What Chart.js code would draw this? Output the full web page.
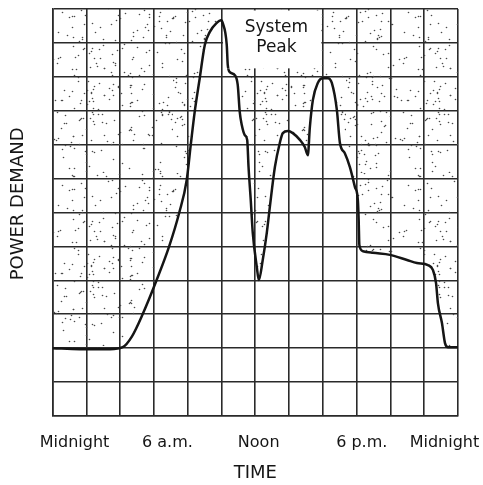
<!DOCTYPE html>
<html>
<head>
<meta charset="utf-8">
<script src="https://cdn.jsdelivr.net/npm/chart.js@4.4.1/dist/chart.umd.min.js"></script>
<style>
    html, body { margin: 0; padding: 0; background: #ffffff; }
    #wrap { width: 483px; height: 485px; }
</style>
</head>
<body>
<div id="wrap"><canvas id="demandChart"></canvas></div>
<script>
// Hour of day (0 = midnight) and power demand in grid units (0-12)
const hours = [0, 1.6, 3.4, 4.15, 4.7, 5.33, 6.16, 6.9, 7.5, 7.94,
    8.18, 8.41, 8.71, 9.01, 9.3, 9.72, 9.96, 10.07, 10.31, 10.37,
    10.49, 10.79, 10.96, 11.08, 11.2, 11.38, 11.52, 11.6, 11.73, 11.85,
    12.09, 12.21, 12.44, 12.68, 12.86, 13.16, 13.45, 13.63, 13.93, 14.22,
    14.64, 14.93, 15.11, 15.23, 15.41, 15.7, 16.0, 16.3, 16.53, 16.83,
    17.01, 17.3, 17.6, 17.9, 18.07, 18.12, 18.16, 18.37, 18.96, 19.97,
    20.98, 21.57, 22.22, 22.52, 22.7, 22.81, 23.05, 23.23, 23.41, 24];
const demand = [2.0, 1.97, 1.97, 2.03, 2.35, 3.0, 4.01, 5.0, 6.0, 6.96,
    8.0, 8.96, 9.96, 10.94, 11.32, 11.59, 11.67, 11.59, 10.94, 10.35,
    10.14, 10.05, 9.76, 8.96, 8.58, 8.28, 8.14, 7.34, 6.37, 5.40,
    4.39, 4.01, 4.60, 5.40, 6.16, 7.34, 8.05, 8.34, 8.40, 8.34,
    8.14, 7.93, 7.69, 8.52, 9.32, 9.82, 9.96, 9.96, 9.82, 9.02,
    8.05, 7.75, 7.34, 6.75, 6.37, 5.78, 5.04, 4.86, 4.81, 4.75,
    4.60, 4.51, 4.45, 4.30, 3.92, 3.33, 2.74, 2.15, 2.03, 2.03];

// Time labels under the grid and the hour each one sits at
const timeLabels = ['Midnight', '6 a.m.', 'Noon', '6 p.m.', 'Midnight'];
const timeLabelHours = [1.3, 6.8, 12.2, 18.3, 23.2];

const peakLabel = ['System', 'Peak'];

const INK = '#151515';
const FONT = '"DejaVu Sans", sans-serif';

// dotted texture for the area above the curve (big tile so it doesn't look tiled)
function makeStipple() {
    const size = 173;
    const c = document.createElement('canvas');
    c.width = size;
    c.height = size;
    const g = c.getContext('2d');
    g.fillStyle = '#4a4a4a';
    let seed = 98765;
    const next = () => {
        seed = (seed * 16807) % 2147483647;
        return seed / 2147483647;
    };
    for (let i = 0; i < 380; i++) {
        const x = Math.floor(next() * size);
        const y = Math.floor(next() * size);
        g.beginPath();
        g.arc(x + 0.5, y + 0.5, 0.8, 0, Math.PI * 2);
        g.fill();
    }
    return g.createPattern(c, 'repeat');
}

// white box with the "System Peak" note, the curve is drawn again on top of it
const peakBox = {
    id: 'peakBox',
    afterDatasetsDraw(chart, args, opts) {
        const { ctx, chartArea, scales } = chart;
        const x0 = scales.x.getPixelForValue(opts.fromHour) + 1.5;
        const x1 = scales.x.getPixelForValue(opts.toHour) - 1.5;
        const y0 = chartArea.top + 1.5;
        const y1 = scales.y.getPixelForValue(opts.downTo);

        ctx.save();
        ctx.fillStyle = '#ffffff';
        ctx.fillRect(x0, y0, x1 - x0, y1 - y0);

        ctx.save();
        ctx.beginPath();
        ctx.rect(x0 - 2, y0, x1 - x0 + 4, y1 - y0);
        ctx.clip();
        chart.getDatasetMeta(0).dataset.draw(ctx, chartArea);
        ctx.restore();

        ctx.fillStyle = INK;
        ctx.font = '17px ' + FONT;
        ctx.textAlign = 'center';
        ctx.textBaseline = 'middle';
        const cx = scales.x.getPixelForValue(opts.textHour);
        opts.lines.forEach((t, i) => ctx.fillText(t, cx, y0 + 17 + i * 20));
        ctx.restore();
    }
};

const ctx = document.getElementById('demandChart');

new Chart(ctx, {
    type: 'line',
    data: {
        datasets: [{
            data: hours.map((h, i) => ({ x: h, y: demand[i] })),
            xAxisID: 'x',
            yAxisID: 'y',
            borderColor: INK,
            borderWidth: 2.5,
            pointRadius: 0,
            cubicInterpolationMode: 'monotone',
            fill: 'end',
            backgroundColor: makeStipple()
        }]
    },
    options: {
        responsive: true,
        maintainAspectRatio: false,
        animation: false,
        layout: {
            padding: { top: 9, right: 25, left: 0, bottom: 0 }
        },
        scales: {
            x: {
                type: 'linear',
                min: 0,
                max: 24,
                ticks: { display: false, stepSize: 2 },
                grid: { color: '#2a2a2a', lineWidth: 1.6, drawTicks: false },
                border: { color: '#2a2a2a', width: 1.6 }
            },
            xTime: {
                type: 'linear',
                position: 'bottom',
                min: 0,
                max: 24,
                grid: { display: false, drawTicks: false },
                border: { display: false },
                afterBuildTicks: axis => {
                    axis.ticks = timeLabelHours.map(v => ({ value: v }));
                },
                // labels may hang past the grid; keep the grid full width
                afterFit: axis => {
                    axis.paddingLeft = 0;
                    axis.paddingRight = 0;
                    axis.height = 69;
                },
                ticks: {
                    padding: 17,
                    color: INK,
                    maxRotation: 0,
                    autoSkip: false,
                    font: { family: FONT, size: 16 },
                    callback: (value, index) => timeLabels[index]
                },
                title: {
                    display: true,
                    text: 'TIME',
                    color: INK,
                    font: { family: FONT, size: 18 },
                    padding: { top: 0, bottom: 1 }
                }
            },
            y: {
                min: 0,
                max: 12,
                ticks: { display: false, stepSize: 1 },
                grid: { color: '#2a2a2a', lineWidth: 1.6, drawTicks: false },
                border: { color: '#2a2a2a', width: 1.6 },
                title: {
                    display: true,
                    text: '   POWER DEMAND',
                    color: INK,
                    font: { family: FONT, size: 18 },
                    padding: { top: 8, bottom: 23 }
                }
            }
        },
        plugins: {
            legend: { display: false },
            tooltip: { enabled: false },
            peakBox: {
                fromHour: 10,
                toHour: 16,
                downTo: 10.25,
                textHour: 13.25,
                lines: peakLabel
            }
        }
    },
    plugins: [peakBox]
});
</script>
</body>
</html>
